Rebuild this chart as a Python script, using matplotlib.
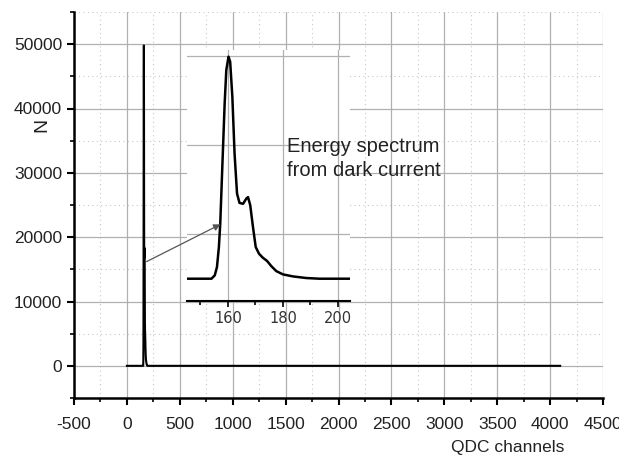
import numpy as np
import matplotlib.pyplot as plt
from matplotlib.ticker import MultipleLocator

plt.rcParams['font.family'] = ['Liberation Sans', 'DejaVu Sans']
plt.rcParams['axes.unicode_minus'] = False

# spectrum of the dark current
peak_ch = [145, 154, 155.2, 156, 156.7, 157.2, 157.9, 158.8, 159.4, 160.2,
           160.8, 161.6, 162.4, 163.3, 164.2, 165.5, 166.7, 167.3, 168.1,
           169.1, 170.1, 171.3, 172.7, 174.2, 175.8, 177.6, 180, 183.6,
           188.5, 193.3, 205]
peak_n = [0, 0, 750, 2600, 7100, 12400, 24300, 39300, 46800, 49800,
          48700, 40800, 28100, 19100, 17000, 16800, 18000, 18300, 16500,
          11600, 7100, 5600, 4700, 4000, 2800, 1700, 970, 520,
          150, 0, 0]

# full QDC range
full_ch = [0] + peak_ch + [4095]
full_n = [0] + peak_n + [0]

fig = plt.figure(figsize=(6.19, 4.59), dpi=100)
ax = fig.add_axes([74 / 619, 61 / 459, 529 / 619, 386 / 459])

ax.plot(full_ch, full_n, color='black', lw=1.5)
ax.set_xlim(-500, 4500)
ax.set_ylim(-5000, 55000)
ax.xaxis.set_major_locator(MultipleLocator(500))
ax.xaxis.set_minor_locator(MultipleLocator(250))
ax.yaxis.set_major_locator(MultipleLocator(10000))
ax.yaxis.set_minor_locator(MultipleLocator(5000))
ax.grid(which='major', color='#b0b0b0', lw=0.9)
ax.grid(which='minor', color='#c8c8c8', lw=0.8, ls=(0, (1, 3)))
ax.set_axisbelow(True)
for s in ['top', 'right']:
    ax.spines[s].set_visible(False)
for s in ['left', 'bottom']:
    ax.spines[s].set_linewidth(1.8)
ax.tick_params(which='major', length=5, width=1.5, labelsize=12.5,
               colors='black', labelcolor='#222222')
ax.tick_params(axis='x', which='major', pad=9)
ax.tick_params(which='minor', length=3, width=1.2)
ax.set_ylabel('N', fontsize=14, color='#222222')
ax.yaxis.set_label_coords(-0.045, 0.707)
ax.set_xlabel('QDC channels', fontsize=12.5, color='#222222')
ax.xaxis.set_label_coords(0.82, -0.108)

# inset with the peak
axins = fig.add_axes([187 / 619, 158 / 459, 163 / 619, 251 / 459])
axins.plot(peak_ch, peak_n, color='black', lw=1.8)
axins.set_xlim(145.1, 204.4)
axins.set_ylim(-5000, 51300)
axins.xaxis.set_major_locator(MultipleLocator(20))
axins.xaxis.set_minor_locator(MultipleLocator(10))
axins.set_yticks([10000, 30000, 50000])
axins.grid(which='major', color='#b0b0b0', lw=0.9)
axins.set_axisbelow(True)
for s in ['top', 'right', 'left']:
    axins.spines[s].set_visible(False)
axins.spines['bottom'].set_linewidth(1.5)
axins.tick_params(axis='y', left=False, labelleft=False)
axins.tick_params(axis='x', which='major', length=4, width=1.2, labelsize=10.5,
                  labelcolor='#333333')
axins.tick_params(axis='x', which='minor', length=3, width=1.2)
for lbl in axins.get_xticklabels():
    lbl.set_family('DejaVu Sans')

axins.annotate('', xy=(157.3, 12200), xycoords=axins.transData,
               xytext=(186, 16200), textcoords=ax.transData,
               arrowprops=dict(arrowstyle='-|>', color='#555555', lw=0.9,
                               mutation_scale=10, shrinkA=0, shrinkB=0),
               annotation_clip=False, zorder=10)
fig.text(287 / 619, 1 - 137 / 459, 'Energy spectrum\nfrom dark current',
         fontsize=14.5, va='top', ha='left', color='#222222', linespacing=1.3)

fig.savefig('out.png', dpi=100)
